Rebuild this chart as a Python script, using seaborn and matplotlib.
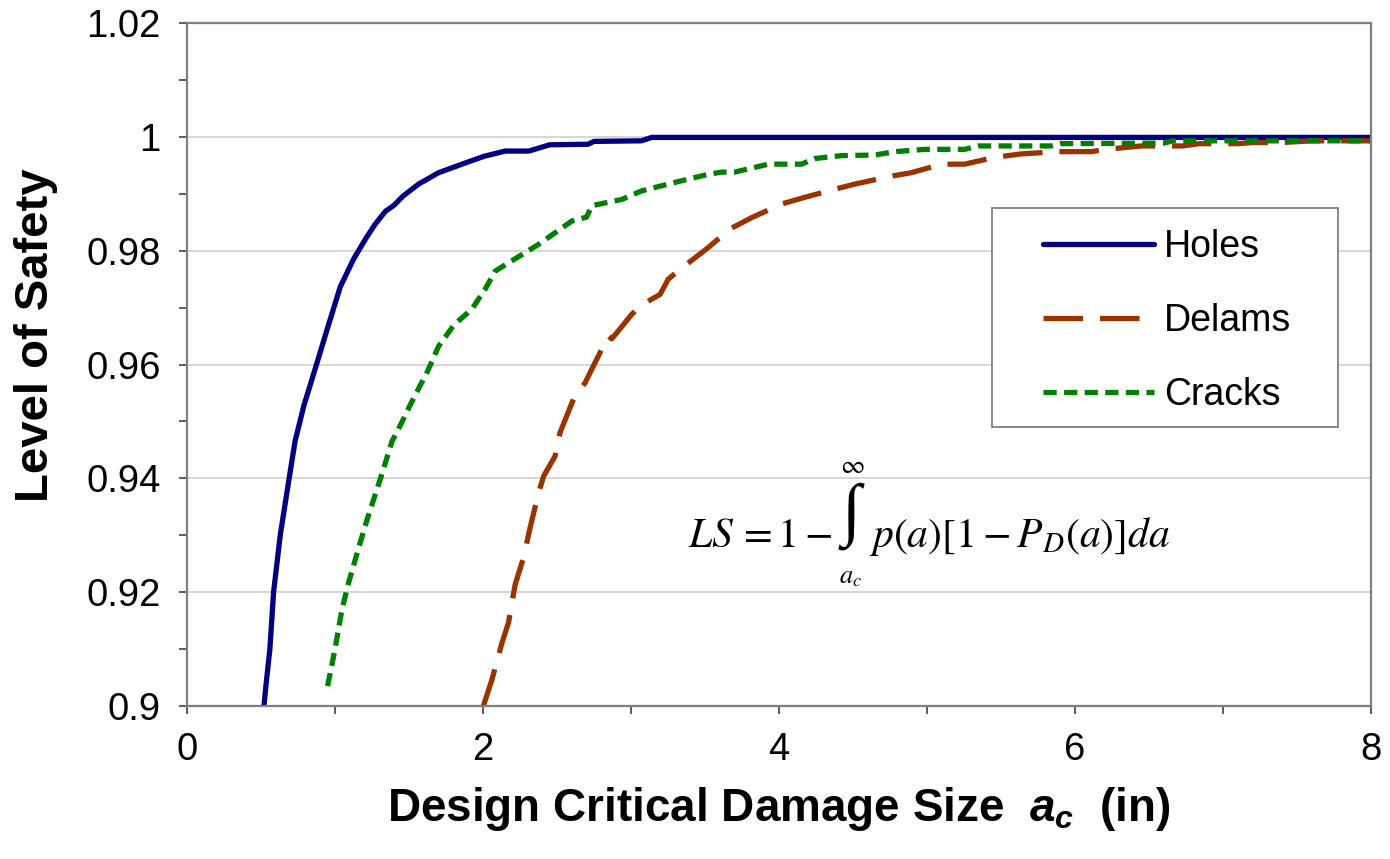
import numpy as np
import pandas as pd
import matplotlib
matplotlib.use("Agg")
import matplotlib.pyplot as plt
import seaborn as sns
from matplotlib.patches import Rectangle
from matplotlib.ticker import MultipleLocator, FuncFormatter

# ---------------- data ----------------
holes_x = [0.52, 0.535, 0.56, 0.585, 0.63, 0.675, 0.73, 0.79, 0.855, 0.945, 1.035,
           1.125, 1.205, 1.27, 1.34, 1.40, 1.46, 1.565, 1.70, 1.89, 2.01, 2.15,
           2.31, 2.45, 2.71, 2.75, 3.07, 3.14, 8.0]
holes_y = [0.900, 0.904, 0.910, 0.920, 0.930, 0.9375, 0.9465, 0.9528, 0.9583, 0.966,
           0.9736, 0.9785, 0.982, 0.9846, 0.9869, 0.9880, 0.9896, 0.9917, 0.9937,
           0.9955, 0.9966, 0.9975, 0.9975, 0.9986, 0.9987, 0.9992, 0.9993, 0.9999, 0.9999]

delams_x = [2.0, 2.06, 2.127, 2.172, 2.217, 2.273, 2.318, 2.375, 2.41, 2.487, 2.52,
            2.611, 2.69, 2.768, 2.847, 2.87, 3.005, 3.08, 3.196, 3.252, 3.331, 3.52,
            3.668, 3.815, 4.018, 4.164, 4.378, 4.513, 4.76, 4.895, 5.098, 5.255,
            5.458, 5.638, 5.89, 6.11, 6.21, 6.45, 6.73, 6.84, 7.10, 7.20, 7.40,
            7.60, 8.0]
delams_y = [0.8998, 0.9046, 0.911, 0.9146, 0.9213, 0.926, 0.9313, 0.9374, 0.9404,
            0.9439, 0.948, 0.9539, 0.9568, 0.9609, 0.9650, 0.9645, 0.9688, 0.9706,
            0.9723, 0.9750, 0.9767, 0.9805, 0.9838, 0.9858, 0.9882, 0.9893, 0.9908,
            0.9917, 0.9931, 0.9937, 0.9952, 0.9952, 0.9964, 0.9970, 0.9974, 0.9974,
            0.9978, 0.9984, 0.9984, 0.9988, 0.9988, 0.9990, 0.9990, 0.9993, 0.9993]

cracks_x = [0.95, 1.00, 1.045, 1.09, 1.16, 1.215, 1.285, 1.32, 1.385, 1.445, 1.51,
            1.625, 1.70, 1.805, 1.924, 2.014, 2.082, 2.194, 2.375, 2.60, 2.70, 2.735,
            2.937, 3.072, 3.297, 3.52, 3.612, 3.70, 3.928, 4.153, 4.243, 4.423,
            4.648, 4.783, 4.985, 5.255, 5.346, 5.84, 5.90, 6.60, 6.66, 8.0]
cracks_y = [0.9035, 0.910, 0.9167, 0.9215, 0.9278, 0.9326, 0.9382, 0.941, 0.9465,
            0.9495, 0.9530, 0.9588, 0.9632, 0.9670, 0.9697, 0.9732, 0.9764, 0.9782,
            0.9811, 0.9852, 0.9859, 0.9879, 0.9890, 0.9905, 0.9920, 0.9934, 0.9938,
            0.9938, 0.9952, 0.9952, 0.9962, 0.9967, 0.9968, 0.9974, 0.9978, 0.9978,
            0.9984, 0.9984, 0.9988, 0.9989, 0.9993, 0.9993]

series_names = ["Holes", "Delams", "Cracks"]
series_colors = ["#000080", "#993300", "#008000"]

x_ticks_major = [0, 2, 4, 6, 8]
y_ticks_major = [0.90, 0.92, 0.94, 0.96, 0.98, 1.00, 1.02]

# ---------------- style ----------------
sns.set_theme(style="white")
plt.rcParams["font.family"] = ["Liberation Sans", "DejaVu Sans"]
plt.rcParams["mathtext.fontset"] = "custom"
plt.rcParams["mathtext.it"] = "Liberation Sans:bold:italic"
plt.rcParams["mathtext.rm"] = "Liberation Sans:bold"
plt.rcParams["mathtext.bf"] = "Liberation Sans:bold"

W, H = 1390, 859
fig = plt.figure(figsize=(W / 100, H / 100), dpi=100)
L, R, T, B = 187, 1371, 23, 706
ax = fig.add_axes([L / W, 1 - B / H, (R - L) / W, (B - T) / H])

df = pd.concat([
    pd.DataFrame({"x": holes_x, "y": holes_y, "s": "Holes"}),
    pd.DataFrame({"x": delams_x, "y": delams_y, "s": "Delams"}),
    pd.DataFrame({"x": cracks_x, "y": cracks_y, "s": "Cracks"}),
])

lw = 3.8
styles = {
    "Holes": dict(linestyle="-", solid_capstyle="round"),
    "Delams": dict(linestyle=(0, (7.5, 3.2)), dash_capstyle="butt"),
    "Cracks": dict(linestyle=(0, (2.5, 1.4)), dash_capstyle="butt"),
}
for name, col in zip(series_names, series_colors):
    sub = df[df["s"] == name]
    sns.lineplot(data=sub, x="x", y="y", ax=ax, color=col, lw=lw, sort=False,
                 estimator=None, label=name, **styles[name])

ax.set_xlim(0, 8)
ax.set_ylim(0.9, 1.02)
ax.set_xticks(x_ticks_major)
ax.xaxis.set_minor_locator(MultipleLocator(1))
ax.set_yticks(y_ticks_major)
ax.yaxis.set_minor_locator(MultipleLocator(0.01))
ax.yaxis.set_major_formatter(FuncFormatter(lambda v, p: f"{round(v, 2):g}"))
ax.xaxis.set_major_formatter(FuncFormatter(lambda v, p: f"{v:g}"))

ax.grid(False)
ax.yaxis.grid(True, which="major", color="#d0d0d0", lw=1.2)
ax.set_axisbelow(True)

for sp in ax.spines.values():
    sp.set_visible(True)
    sp.set_color("#7f7f7f")
    sp.set_linewidth(1.6)

ax.tick_params(axis="both", which="both", direction="out", length=6, width=1.1,
               color="#303030", labelsize=27.5, labelcolor="black")
ax.tick_params(axis="y", which="both", left=True, right=False, pad=13)
ax.tick_params(axis="x", which="both", bottom=True, top=False, pad=13)

ax.set_ylabel("Level of Safety", fontsize=34, fontweight="bold", color="black")
ax.yaxis.label.set_va("center")
ax.yaxis.label.set_ha("center")
ax.yaxis.set_label_coords((36 - L) / (R - L), (B - 335) / (B - T))
ax.set_xlabel(r"Design Critical Damage Size  $a_c$  (in)", fontsize=33,
              fontweight="bold", color="black")
ax.xaxis.label.set_va("center")
ax.xaxis.set_label_coords(0.5, (B - 809) / (B - T))

# legend (frame drawn separately)
leg0 = ax.get_legend()
if leg0 is not None:
    leg0.remove()
handles = ax.lines[:3]
leg = ax.legend(handles, series_names, loc="upper left",
                bbox_to_anchor=((1043 - L) / (R - L), (B - 229) / (B - T)),
                frameon=False, fontsize=27, handlelength=2.95, handletextpad=0.28,
                labelspacing=1.02, borderpad=0.0, borderaxespad=0.0)
for t in leg.get_texts():
    t.set_color("black")
ax.add_patch(Rectangle(((992 - L) / (R - L), (B - 427) / (B - T)),
                       (1338 - 992) / (R - L), (427 - 208) / (B - T),
                       transform=ax.transAxes, fill=True, facecolor="white",
                       edgecolor="#7f7f7f", lw=1.3, zorder=4))
leg.set_zorder(5)

# formula
fkw = dict(math_fontfamily="stix", color="black", transform=ax.transData)
base = 0.9 + (B - 547) / 5691.7
ax.text((833 - L) / 148.0, base, r"$LS\,=1-$", fontsize=30, ha="right",
        va="baseline", **fkw)
ax.text((851.5 - L) / 148.0, 0.9 + (B - 516) / 5691.7, "\u222b", fontsize=50,
        family=["Liberation Serif", "DejaVu Serif"], ha="center", va="center",
        color="black", transform=ax.transData)
ax.text((869 - L) / 148.0, base, r"$p(a)\left[1-P_D(a)\right]da$", fontsize=30,
        ha="left", va="baseline", **fkw)
ax.text((852 - L) / 148.0, 0.9 + (B - 466) / 5691.7, r"$\infty$", fontsize=19,
        ha="center", va="center", **fkw)
ax.text((851 - L) / 148.0, 0.9 + (B - 577) / 5691.7, r"$a_c$", fontsize=19,
        ha="center", va="center", **fkw)

fig.savefig("out.png", dpi=100, facecolor="white")
